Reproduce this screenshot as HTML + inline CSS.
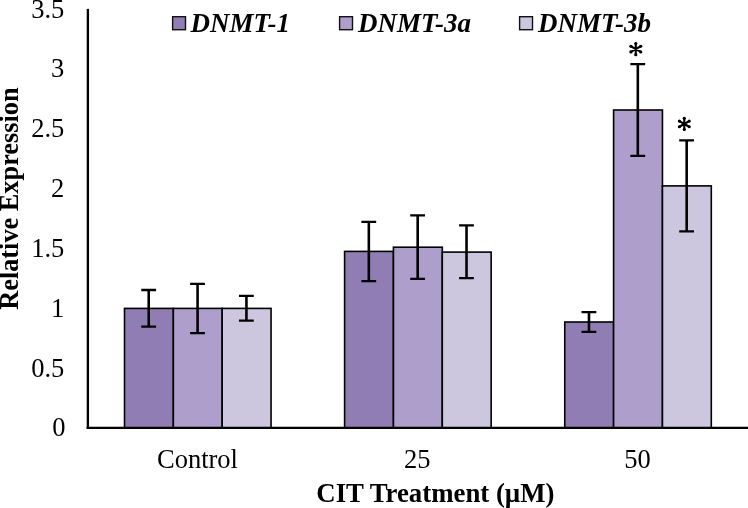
<!DOCTYPE html>
<html><head><meta charset="utf-8"><style>
html,body{margin:0;padding:0;background:#fff;width:748px;height:508px;overflow:hidden}
svg{display:block;will-change:transform}
.t{font-family:"Liberation Serif",serif;font-size:26.5px;fill:#000}
.b{font-family:"Liberation Serif",serif;font-size:26.5px;font-weight:bold;fill:#000}
.bi{font-family:"Liberation Serif",serif;font-size:27px;font-weight:bold;font-style:italic;fill:#000}
.a{font-family:"Liberation Serif",serif;font-size:35px;font-weight:bold;fill:#000}
</style></head><body>
<svg width="748" height="508" viewBox="0 0 748 508">
<rect x="124.50" y="308.40" width="48.85" height="119.40" fill="#8f7db3" stroke="#000" stroke-width="1.6"/>
<rect x="173.35" y="308.40" width="48.85" height="119.40" fill="#ae9ecb" stroke="#000" stroke-width="1.6"/>
<rect x="222.20" y="308.40" width="48.85" height="119.40" fill="#cdc6df" stroke="#000" stroke-width="1.6"/>
<rect x="344.60" y="251.40" width="48.85" height="176.40" fill="#8f7db3" stroke="#000" stroke-width="1.6"/>
<rect x="393.45" y="247.20" width="48.85" height="180.60" fill="#ae9ecb" stroke="#000" stroke-width="1.6"/>
<rect x="442.30" y="252.10" width="48.85" height="175.70" fill="#cdc6df" stroke="#000" stroke-width="1.6"/>
<rect x="564.75" y="322.00" width="48.85" height="105.80" fill="#8f7db3" stroke="#000" stroke-width="1.6"/>
<rect x="613.60" y="110.00" width="48.85" height="317.80" fill="#ae9ecb" stroke="#000" stroke-width="1.6"/>
<rect x="662.45" y="185.90" width="48.85" height="241.90" fill="#cdc6df" stroke="#000" stroke-width="1.6"/>
<path d="M148.73 290.00V326.60" stroke="#000" stroke-width="2.6" fill="none"/>
<path d="M141.28 290.00H156.08M141.28 326.60H156.08" stroke="#000" stroke-width="2.3" fill="none"/>
<path d="M197.58 283.80V333.10" stroke="#000" stroke-width="2.6" fill="none"/>
<path d="M190.13 283.80H204.93M190.13 333.10H204.93" stroke="#000" stroke-width="2.3" fill="none"/>
<path d="M246.43 295.90V320.70" stroke="#000" stroke-width="2.6" fill="none"/>
<path d="M238.98 295.90H253.78M238.98 320.70H253.78" stroke="#000" stroke-width="2.3" fill="none"/>
<path d="M368.83 221.80V281.20" stroke="#000" stroke-width="2.6" fill="none"/>
<path d="M361.38 221.80H376.18M361.38 281.20H376.18" stroke="#000" stroke-width="2.3" fill="none"/>
<path d="M417.68 215.30V278.90" stroke="#000" stroke-width="2.6" fill="none"/>
<path d="M410.23 215.30H425.03M410.23 278.90H425.03" stroke="#000" stroke-width="2.3" fill="none"/>
<path d="M466.53 225.40V278.10" stroke="#000" stroke-width="2.6" fill="none"/>
<path d="M459.08 225.40H473.88M459.08 278.10H473.88" stroke="#000" stroke-width="2.3" fill="none"/>
<path d="M588.97 312.10V331.80" stroke="#000" stroke-width="2.6" fill="none"/>
<path d="M581.52 312.10H596.32M581.52 331.80H596.32" stroke="#000" stroke-width="2.3" fill="none"/>
<path d="M637.82 64.10V155.90" stroke="#000" stroke-width="2.6" fill="none"/>
<path d="M630.37 64.10H645.17M630.37 155.90H645.17" stroke="#000" stroke-width="2.3" fill="none"/>
<path d="M686.67 140.30V231.40" stroke="#000" stroke-width="2.6" fill="none"/>
<path d="M679.22 140.30H694.02M679.22 231.40H694.02" stroke="#000" stroke-width="2.3" fill="none"/>
<rect x="86.7" y="8.9" width="2.35" height="420.10" fill="#000"/>
<rect x="86.7" y="426.75" width="700" height="2.25" fill="#000"/>
<text x="65.4" y="436.40" text-anchor="end" class="t">0</text>
<text x="64.3" y="376.56" text-anchor="end" class="t">0.5</text>
<text x="64.3" y="316.71" text-anchor="end" class="t">1</text>
<text x="64.3" y="256.87" text-anchor="end" class="t">1.5</text>
<text x="64.3" y="197.02" text-anchor="end" class="t">2</text>
<text x="64.3" y="137.17" text-anchor="end" class="t">2.5</text>
<text x="64.3" y="77.33" text-anchor="end" class="t">3</text>
<text x="64.3" y="17.49" text-anchor="end" class="t">3.5</text>
<text x="197.5" y="467.5" text-anchor="middle" class="t">Control</text>
<text x="417.3" y="467.5" text-anchor="middle" class="t">25</text>
<text x="637.6" y="467.5" text-anchor="middle" class="t">50</text>
<text x="435.4" y="501.9" text-anchor="middle" class="b" style="font-size:26.8px">CIT Treatment (µM)</text>
<text transform="translate(17.6 198.6) rotate(-90)" text-anchor="middle" class="b" style="font-size:26.3px">Relative Expression</text>
<rect x="172.60" y="16.7" width="12.9" height="13" fill="#8f7db3" stroke="#111" stroke-width="1.4"/>
<text x="190.6" y="32" class="bi">DNMT-1</text>
<rect x="339.60" y="16.7" width="12.9" height="13" fill="#ae9ecb" stroke="#111" stroke-width="1.4"/>
<text x="358" y="32" class="bi">DNMT-3a</text>
<rect x="519.60" y="16.7" width="12.9" height="13" fill="#cdc6df" stroke="#111" stroke-width="1.4"/>
<text x="538" y="32" class="bi">DNMT-3b</text>
<path d="M635.80 43.50L635.80 54.70M630.90 46.25L640.70 51.95M630.90 51.95L640.70 46.25" stroke="#000" stroke-width="2.1" stroke-linecap="round" fill="none"/>
<circle cx="635.80" cy="43.50" r="1.6" fill="#000"/>
<circle cx="635.80" cy="54.70" r="1.6" fill="#000"/>
<circle cx="630.90" cy="46.25" r="1.6" fill="#000"/>
<circle cx="640.70" cy="51.95" r="1.6" fill="#000"/>
<circle cx="630.90" cy="51.95" r="1.6" fill="#000"/>
<circle cx="640.70" cy="46.25" r="1.6" fill="#000"/>
<path d="M684.30 118.30L684.30 129.50M679.40 121.05L689.20 126.75M679.40 126.75L689.20 121.05" stroke="#000" stroke-width="2.1" stroke-linecap="round" fill="none"/>
<circle cx="684.30" cy="118.30" r="1.6" fill="#000"/>
<circle cx="684.30" cy="129.50" r="1.6" fill="#000"/>
<circle cx="679.40" cy="121.05" r="1.6" fill="#000"/>
<circle cx="689.20" cy="126.75" r="1.6" fill="#000"/>
<circle cx="679.40" cy="126.75" r="1.6" fill="#000"/>
<circle cx="689.20" cy="121.05" r="1.6" fill="#000"/>
</svg>
</body></html>
